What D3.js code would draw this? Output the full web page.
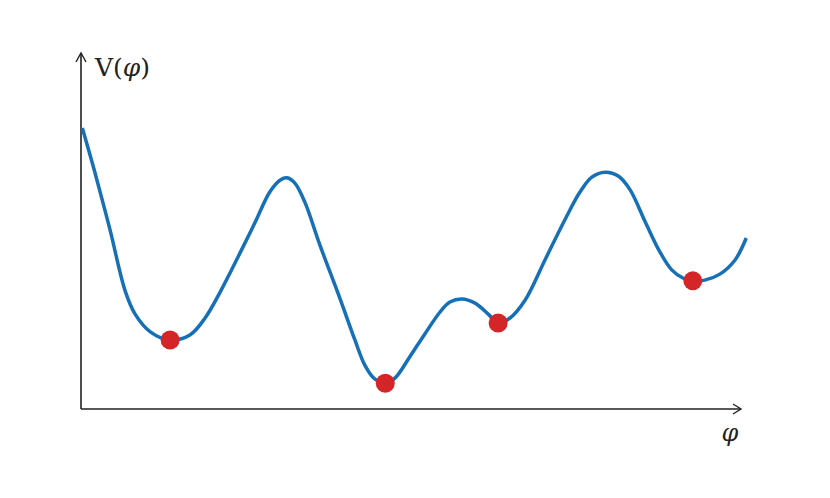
<!DOCTYPE html>
<html><head><meta charset="utf-8">
<script src="https://cdn.jsdelivr.net/npm/d3@7"></script>
<style>body{margin:0;background:#fff}</style>
</head><body>
<script>
// Potential curve samples (phi, V)
const phi = [0.02,0.21,0.44,0.67,0.82,1.05,1.35,1.65,1.88,2.11,2.41,2.64,2.86,3.02,3.12,3.24,3.39,3.62,3.92,4.15,4.30,4.45,4.61,4.76,4.98,5.21,5.44,5.59,5.77,5.97,6.17,6.32,6.50,6.73,7.03,7.33,7.56,7.74,7.94,8.14,8.32,8.55,8.77,8.95,9.12,9.27,9.45,9.68,9.91,10.08];
const V   = [7.94,6.69,5.06,3.33,2.68,2.18,1.95,2.09,2.57,3.31,4.41,5.28,6.13,6.47,6.53,6.38,5.85,4.63,3.14,1.95,1.24,0.85,0.73,0.88,1.47,2.12,2.74,3.02,3.11,2.99,2.68,2.43,2.57,3.08,4.21,5.34,6.13,6.55,6.69,6.58,6.19,5.28,4.44,3.93,3.70,3.62,3.64,3.81,4.21,4.83];
// Minima markers
const minPhi = [1.35,4.61,6.32,9.27];
const minV   = [1.95,0.73,2.43,3.62];
const yLabel = "V(φ)";
const xLabel = "φ";

const W = 830, H = 498;
const svg = d3.select("body").append("svg").attr("width", W).attr("height", H);
const x = d3.scaleLinear().domain([0,10]).range([81,741]);
const y = d3.scaleLinear().domain([0,10]).range([409,55]);

const axisColor = "#222";
const font = "'DejaVu Serif','Liberation Serif',serif";
// axes
svg.append("line").attr("x1",x(0)).attr("y1",y(0)).attr("x2",x(0)).attr("y2",y(10)-2)
  .attr("stroke",axisColor).attr("stroke-width",1.6);
svg.append("line").attr("x1",x(0)).attr("y1",y(0)).attr("x2",x(10)).attr("y2",y(0))
  .attr("stroke",axisColor).attr("stroke-width",1.6);
// arrowheads
svg.append("path").attr("d",`M${x(0)-5},${y(10)+7} L${x(0)},${y(10)-2} L${x(0)+5},${y(10)+7}`)
  .attr("fill","none").attr("stroke",axisColor).attr("stroke-width",1.4);
svg.append("path").attr("d",`M${x(10)-8},${y(0)-5} L${x(10)},${y(0)} L${x(10)-8},${y(0)+5}`)
  .attr("fill","none").attr("stroke",axisColor).attr("stroke-width",1.4);

// labels
const yl = svg.append("text").attr("x",95).attr("y",76)
  .attr("font-family",font).attr("font-size",25).attr("fill","#222");
yl.append("tspan").text("V(");
yl.append("tspan").attr("font-style","italic").text("φ");
yl.append("tspan").text(")");
svg.append("text").attr("x",730).attr("y",441).attr("text-anchor","middle")
  .attr("font-family",font).attr("font-style","italic")
  .attr("font-size",24).attr("fill","#222").text(xLabel);

// curve
const pts = phi.map((p,i)=>[p,V[i]]);
const line = d3.line().x(d=>x(d[0])).y(d=>y(d[1])).curve(d3.curveCatmullRom.alpha(0.5));
svg.append("path").datum(pts).attr("d",line).attr("fill","none")
  .attr("stroke","#1570b8").attr("stroke-width",3.5).attr("stroke-linejoin","round");

// minima
svg.selectAll("circle.m").data(minPhi).join("circle").attr("class","m")
  .attr("cx",(d)=>x(d)).attr("cy",(d,i)=>y(minV[i])).attr("r",9.5).attr("fill","#d42528");
</script>
</body></html>
